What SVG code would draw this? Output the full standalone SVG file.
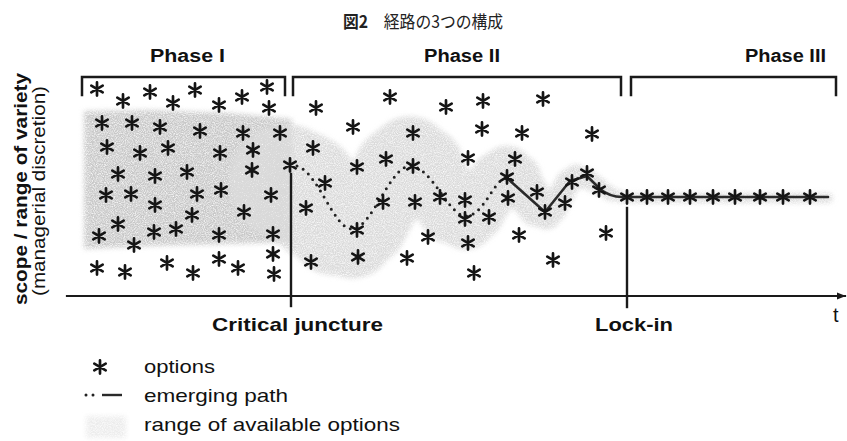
<svg xmlns="http://www.w3.org/2000/svg" xmlns:xlink="http://www.w3.org/1999/xlink" width="847" height="441" viewBox="0 0 847 441">
  <style>
    .sans { font-family: "Liberation Sans", Arial, sans-serif; fill: #111; }
    .bold { font-weight: bold; }
    .cjk { font-family: "Noto Sans CJK JP", "Noto Sans CJK SC", sans-serif; fill: #222; }
    .ink { fill: none; stroke: #1a1a1a; stroke-linecap: square; }
    .band { stroke: #dadada; stroke-linecap: round; fill: none; }
    .dots { fill: none; stroke: #222; stroke-width: 3; stroke-dasharray: 0 7; stroke-linecap: round; }
    .solid { fill: none; stroke: #2a2a2a; stroke-width: 2.6; stroke-linejoin: round; stroke-linecap: round; }
  </style>
  <defs>
    <!-- six-armed option marker -->
    <g id="ast">
      <path d="M0,-6.6V6.6M-5.7,-3.3L5.7,3.3M-5.7,3.3L5.7,-3.3" fill="none" stroke="#151515" stroke-width="2.7" stroke-linecap="round"/>
    </g>
    <marker id="arrow" viewBox="0 0 10 10" refX="9" refY="5" markerWidth="9" markerHeight="9" markerUnits="userSpaceOnUse" orient="auto">
      <path d="M0,1 L10,5 L0,9 Z" fill="#1a1a1a"/>
    </marker>
    <!-- speckled grey texture for the option range -->
    <filter id="grain" filterUnits="userSpaceOnUse" x="0" y="0" width="847" height="441">
      <feGaussianBlur in="SourceGraphic" stdDeviation="2.5" result="soft"/>
      <feTurbulence type="fractalNoise" baseFrequency="0.9" numOctaves="2" seed="7" result="noise"/>
      <feColorMatrix in="noise" type="matrix" values="0 0 0 0 0  0 0 0 0 0  0 0 0 0 0  1.8 0 0 0 -0.15" result="mask"/>
      <feComposite in="soft" in2="mask" operator="in"/>
    </filter>
  </defs>

  <rect width="847" height="441" fill="#fff"/>

  <!-- caption -->
  <g id="title">
    <text class="cjk" x="343" y="28" font-size="17.5" textLength="160" lengthAdjust="spacingAndGlyphs"><tspan font-weight="bold">図2</tspan>　経路の3つの構成</text>
  </g>

  <!-- range of available options: wide block in phase I -->
  <g id="range-open" filter="url(#grain)">
    <path d="M84,111 L150,110 L230,113 L292,119 L292,242 L230,244 L150,246 L84,249 Z" fill="#c8c8c8"/>
  </g>
  <!-- range narrowing through phase II -->
  <g id="range-narrowing" filter="url(#grain)">
    <g class="band">
      <line x1="286" y1="182" x2="302.5" y2="189.9" stroke-width="115"/>
      <line x1="302.5" y1="189.9" x2="319" y2="209" stroke-width="105"/>
      <line x1="319" y1="209" x2="335.5" y2="228.1" stroke-width="95"/>
      <line x1="335.5" y1="228.1" x2="352" y2="236" stroke-width="85"/>
      <line x1="352" y1="236" x2="366.5" y2="224.6" stroke-width="80.5"/>
      <line x1="366.5" y1="224.6" x2="381" y2="197" stroke-width="81.5"/>
      <line x1="381" y1="197" x2="395.5" y2="169.4" stroke-width="82.5"/>
      <line x1="395.5" y1="169.4" x2="410" y2="158" stroke-width="83.5"/>
      <line x1="410" y1="158" x2="424" y2="167.1" stroke-width="80.5"/>
      <line x1="424" y1="167.1" x2="438" y2="189" stroke-width="73.5"/>
      <line x1="438" y1="189" x2="452" y2="210.9" stroke-width="66.5"/>
      <line x1="452" y1="210.9" x2="466" y2="220" stroke-width="59.5"/>
      <line x1="466" y1="220" x2="476.3" y2="213" stroke-width="55.5"/>
      <line x1="476.3" y1="213" x2="486.5" y2="196" stroke-width="54.5"/>
      <line x1="486.5" y1="196" x2="496.8" y2="179" stroke-width="53.5"/>
      <line x1="496.8" y1="179" x2="507" y2="172" stroke-width="52.5"/>
      <line x1="507" y1="172" x2="516.8" y2="178.1" stroke-width="49"/>
      <line x1="516.8" y1="178.1" x2="526.5" y2="193" stroke-width="43"/>
      <line x1="526.5" y1="193" x2="536.3" y2="207.9" stroke-width="37"/>
      <line x1="536.3" y1="207.9" x2="546" y2="214" stroke-width="31"/>
      <line x1="546" y1="214" x2="553.5" y2="208.5" stroke-width="27.3"/>
      <line x1="553.5" y1="208.5" x2="561" y2="195" stroke-width="25.8"/>
      <line x1="561" y1="195" x2="568.5" y2="181.5" stroke-width="24.3"/>
      <line x1="568.5" y1="181.5" x2="576" y2="176" stroke-width="22.8"/>
      <line x1="576" y1="176" x2="587.5" y2="179.1" stroke-width="20.5"/>
      <line x1="587.5" y1="179.1" x2="599" y2="186.5" stroke-width="17.5"/>
      <line x1="599" y1="186.5" x2="610.5" y2="193.9" stroke-width="14.5"/>
      <line x1="610.5" y1="193.9" x2="622" y2="197" stroke-width="11.5"/>
      <line x1="622" y1="198" x2="828" y2="198" stroke-width="10"/>
    </g>
  </g>

  <!-- phase headings and brackets -->
  <g id="phase-1">
    <text class="sans bold" x="150" y="62" font-size="18" textLength="75" lengthAdjust="spacingAndGlyphs">Phase I</text>
    <path class="ink" stroke-width="2.5" d="M82,95 V77 H285 V95"/>
  </g>
  <g id="phase-2">
    <text class="sans bold" x="424" y="62" font-size="18" textLength="76" lengthAdjust="spacingAndGlyphs">Phase II</text>
    <path class="ink" stroke-width="2.5" d="M293,95 V77 H621 V95"/>
  </g>
  <g id="phase-3">
    <text class="sans bold" x="745" y="62" font-size="18" textLength="81" lengthAdjust="spacingAndGlyphs">Phase III</text>
    <path class="ink" stroke-width="2.5" d="M631,95 V77 H836 V95"/>
  </g>

  <!-- axes and event markers -->
  <g id="axes">
    <line class="ink" x1="67" y1="296" x2="845" y2="296" stroke-width="2.2" marker-end="url(#arrow)"/>
    <text class="sans" x="833" y="322" font-size="20">t</text>
    <text class="sans bold" font-size="19" transform="translate(27,305) rotate(-90)" textLength="232" lengthAdjust="spacingAndGlyphs">scope / range of variety</text>
    <text class="sans" font-size="19" transform="translate(45,296) rotate(-90)" textLength="210" lengthAdjust="spacingAndGlyphs">(managerial discretion)</text>
  </g>
  <g id="critical-juncture">
    <line class="ink" x1="291" y1="174" x2="291" y2="306" stroke-width="2.4" stroke-linecap="butt"/>
    <text class="sans bold" x="212" y="331" font-size="19" textLength="171" lengthAdjust="spacingAndGlyphs">Critical juncture</text>
  </g>
  <g id="lock-in">
    <line class="ink" x1="627" y1="208" x2="627" y2="307" stroke-width="2.4" stroke-linecap="butt"/>
    <text class="sans bold" x="595" y="331" font-size="19" textLength="78" lengthAdjust="spacingAndGlyphs">Lock-in</text>
  </g>

  <!-- emerging path: dotted while open, solid as it settles -->
  <g id="emerging-path">
    <path class="dots" d="M297,166 C318,172 334,229 352,229 C372,229 390,166 410,166 C432,166 448,216 466,216 C484,216 494,178 507,178"/>
    <path class="solid" d="M507,178 L545,212 L570,181 L587,176 L600,189 Q610,197 622,197 L828,197"/>
  </g>

  <!-- options -->
  <g id="options">
    <use xlink:href="#ast" x="97" y="89"/><use xlink:href="#ast" x="123" y="101"/><use xlink:href="#ast" x="150" y="92"/>
    <use xlink:href="#ast" x="173" y="103"/><use xlink:href="#ast" x="195" y="90"/><use xlink:href="#ast" x="219" y="105"/>
    <use xlink:href="#ast" x="242" y="97"/><use xlink:href="#ast" x="267" y="87"/><use xlink:href="#ast" x="269" y="108"/>
    <use xlink:href="#ast" x="102" y="123"/><use xlink:href="#ast" x="132" y="123"/><use xlink:href="#ast" x="160" y="127"/>
    <use xlink:href="#ast" x="200" y="131"/><use xlink:href="#ast" x="243" y="133"/><use xlink:href="#ast" x="280" y="133"/>
    <use xlink:href="#ast" x="107" y="147"/><use xlink:href="#ast" x="140" y="153"/><use xlink:href="#ast" x="168" y="148"/>
    <use xlink:href="#ast" x="220" y="153"/><use xlink:href="#ast" x="253" y="150"/>
    <use xlink:href="#ast" x="118" y="174"/><use xlink:href="#ast" x="155" y="176"/><use xlink:href="#ast" x="187" y="172"/>
    <use xlink:href="#ast" x="252" y="170"/><use xlink:href="#ast" x="290" y="165"/>
    <use xlink:href="#ast" x="106" y="195"/><use xlink:href="#ast" x="131" y="194"/><use xlink:href="#ast" x="155" y="205"/>
    <use xlink:href="#ast" x="197" y="194"/><use xlink:href="#ast" x="221" y="190"/><use xlink:href="#ast" x="271" y="195"/>
    <use xlink:href="#ast" x="192" y="215"/><use xlink:href="#ast" x="244" y="212"/>
    <use xlink:href="#ast" x="118" y="224"/><use xlink:href="#ast" x="154" y="232"/><use xlink:href="#ast" x="176" y="229"/>
    <use xlink:href="#ast" x="99" y="236"/><use xlink:href="#ast" x="134" y="245"/><use xlink:href="#ast" x="219" y="235"/>
    <use xlink:href="#ast" x="273" y="234"/><use xlink:href="#ast" x="273" y="254"/><use xlink:href="#ast" x="274" y="274"/>
    <use xlink:href="#ast" x="97" y="268"/><use xlink:href="#ast" x="125" y="272"/><use xlink:href="#ast" x="167" y="263"/>
    <use xlink:href="#ast" x="193" y="273"/><use xlink:href="#ast" x="219" y="259"/><use xlink:href="#ast" x="238" y="268"/>

    <use xlink:href="#ast" x="316" y="108"/><use xlink:href="#ast" x="390" y="97"/><use xlink:href="#ast" x="446" y="107"/>
    <use xlink:href="#ast" x="483" y="101"/><use xlink:href="#ast" x="543" y="99"/>
    <use xlink:href="#ast" x="353" y="127"/><use xlink:href="#ast" x="413" y="133"/><use xlink:href="#ast" x="482" y="129"/>
    <use xlink:href="#ast" x="522" y="133"/><use xlink:href="#ast" x="592" y="134"/>
    <use xlink:href="#ast" x="313" y="148"/><use xlink:href="#ast" x="468" y="158"/><use xlink:href="#ast" x="515" y="159"/>
    <use xlink:href="#ast" x="357" y="167"/><use xlink:href="#ast" x="386" y="159"/><use xlink:href="#ast" x="413" y="166"/>
    <use xlink:href="#ast" x="325" y="183"/><use xlink:href="#ast" x="507" y="177"/><use xlink:href="#ast" x="587" y="173"/>
    <use xlink:href="#ast" x="440" y="197"/><use xlink:href="#ast" x="465" y="200"/><use xlink:href="#ast" x="508" y="198"/>
    <use xlink:href="#ast" x="537" y="192"/><use xlink:href="#ast" x="572" y="182"/><use xlink:href="#ast" x="565" y="203"/>
    <use xlink:href="#ast" x="599" y="190"/>
    <use xlink:href="#ast" x="306" y="208"/><use xlink:href="#ast" x="383" y="202"/><use xlink:href="#ast" x="415" y="202"/>
    <use xlink:href="#ast" x="489" y="217"/><use xlink:href="#ast" x="465" y="219"/><use xlink:href="#ast" x="545" y="212"/>
    <use xlink:href="#ast" x="357" y="230"/><use xlink:href="#ast" x="428" y="237"/><use xlink:href="#ast" x="468" y="243"/>
    <use xlink:href="#ast" x="519" y="235"/><use xlink:href="#ast" x="606" y="233"/>
    <use xlink:href="#ast" x="311" y="262"/><use xlink:href="#ast" x="358" y="257"/><use xlink:href="#ast" x="407" y="258"/>
    <use xlink:href="#ast" x="553" y="260"/><use xlink:href="#ast" x="474" y="273"/>

    <use xlink:href="#ast" x="627" y="197"/><use xlink:href="#ast" x="647" y="197"/><use xlink:href="#ast" x="668" y="197"/>
    <use xlink:href="#ast" x="690" y="197"/><use xlink:href="#ast" x="713" y="197"/><use xlink:href="#ast" x="735" y="197"/>
    <use xlink:href="#ast" x="760" y="197"/><use xlink:href="#ast" x="783" y="197"/><use xlink:href="#ast" x="810" y="197"/>
  </g>

  <!-- key -->
  <g id="legend">
    <use xlink:href="#ast" x="100" y="367"/>
    <text class="sans" x="144" y="373" font-size="19" textLength="71" lengthAdjust="spacingAndGlyphs">options</text>
    <line x1="86" y1="395" x2="100" y2="395" class="dots" stroke-width="2" stroke-dasharray="0 4"/>
    <line x1="102" y1="395" x2="122" y2="395" stroke="#2a2a2a" stroke-width="2.4"/>
    <text class="sans" x="144" y="402" font-size="19" textLength="144" lengthAdjust="spacingAndGlyphs">emerging path</text>
    <rect x="86" y="416" width="40" height="22" fill="#ececec" filter="url(#grain)"/>
    <text class="sans" x="144" y="431" font-size="19" textLength="256" lengthAdjust="spacingAndGlyphs">range of available options</text>
  </g>
</svg>
